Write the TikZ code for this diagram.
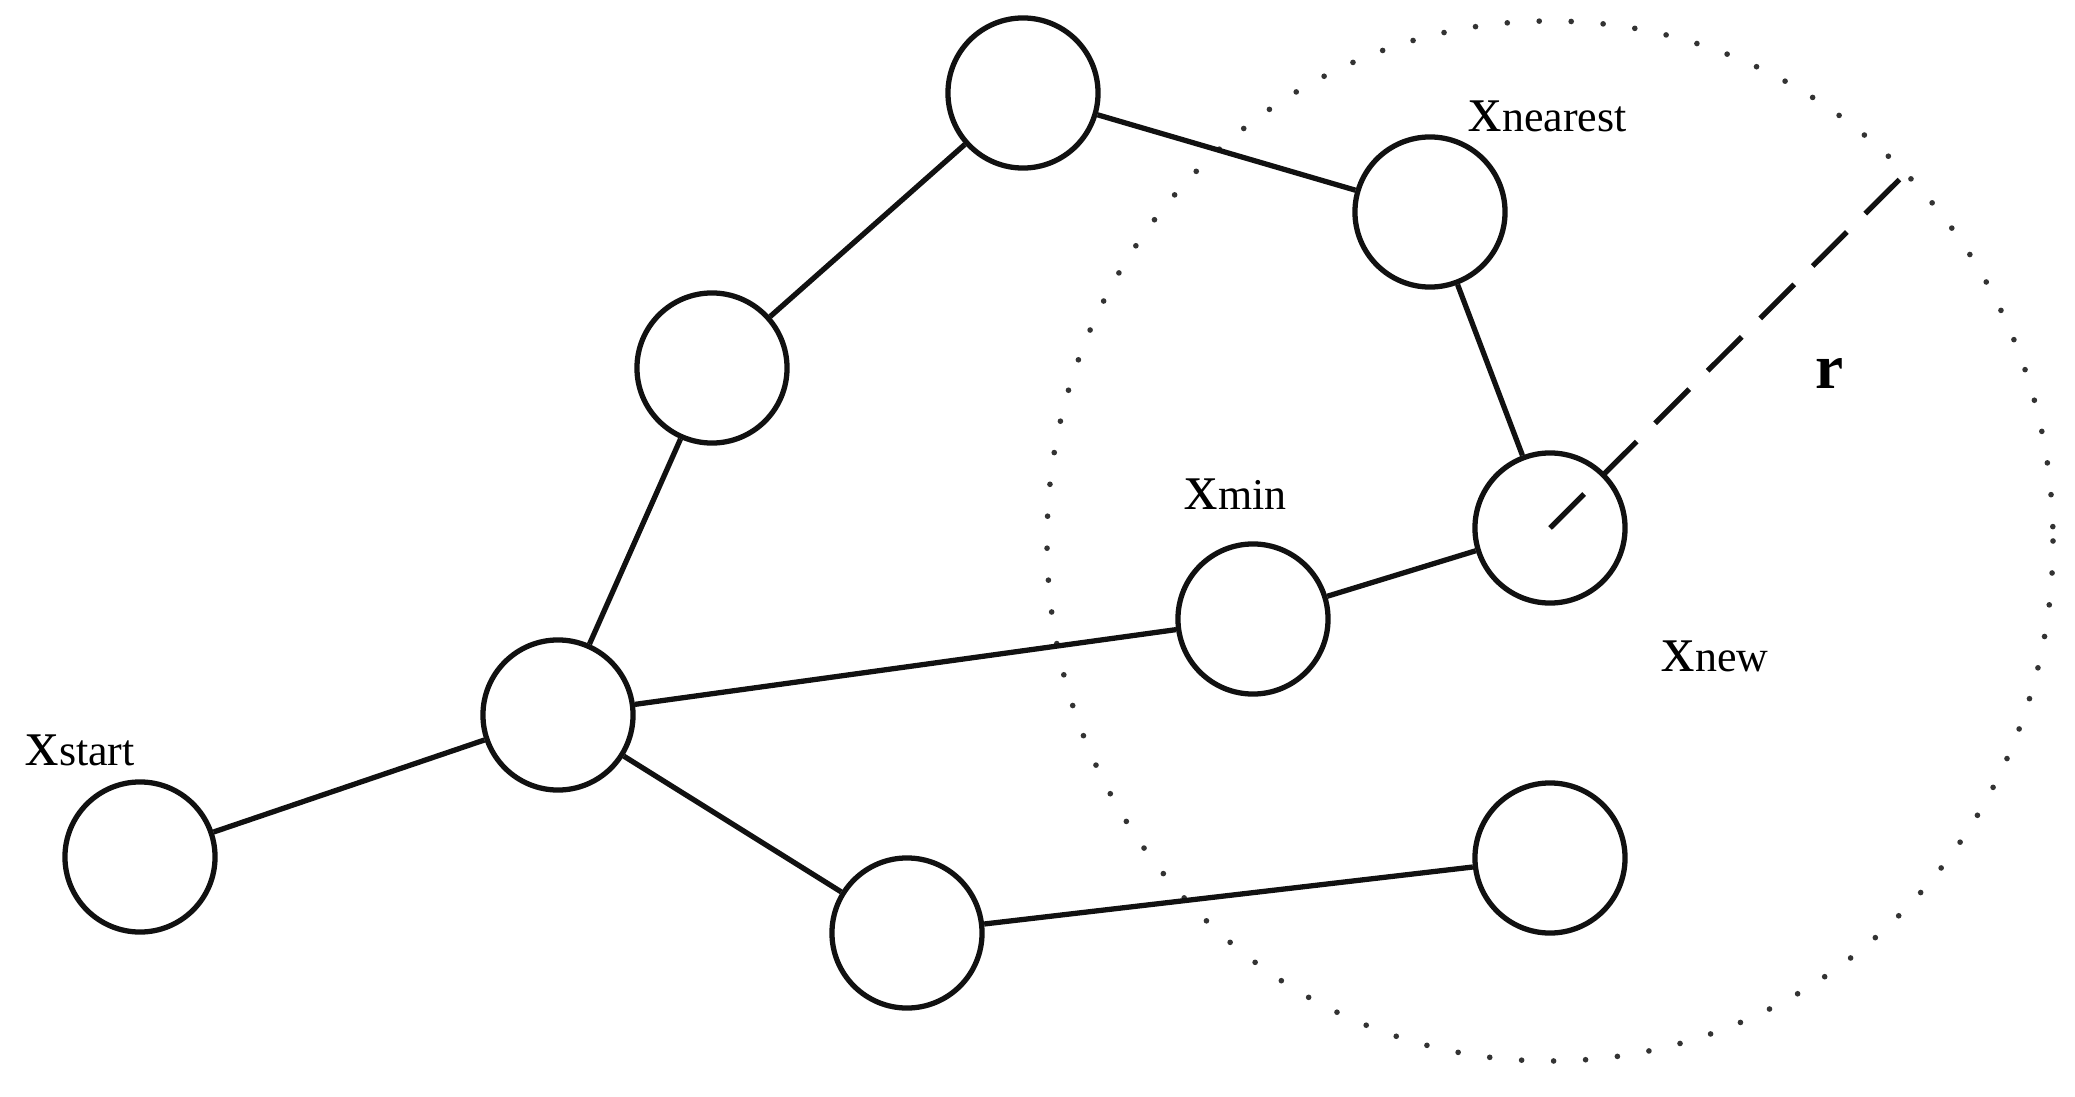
\documentclass[tikz,border=0pt]{standalone}
\usepackage{fontspec}
\setmainfont{Liberation Serif}
\usepackage{xcolor}
\definecolor{cLine}{HTML}{111111}
\definecolor{cDot}{HTML}{333333}
\usepackage{tikz}
\usetikzlibrary{positioning}
\newcommand{\xlab}[1]{{\fontsize{19}{19}\selectfont x}{\fontsize{12.5}{12.5}\selectfont #1}}
\tikzset{
  node-vertex/.style={draw=cLine,line width=1.5pt,circle,fill=white,
    minimum size=1.5cm,inner sep=0pt},
  node-label/.style={anchor=base west,inner sep=0pt},
  edge/.style={draw=cLine,line width=1.5pt},
  edge-radius/.style={draw=cLine,line width=1.5pt,dash pattern=on 13.7pt off 7.4pt},
  range-circle/.style={draw=cDot,line width=1.6pt,line cap=round,
    dash pattern=on 0pt off 9.1pt},
}

\begin{document}
\begin{tikzpicture}[x=0.01cm,y=-0.01cm]
  \useasboundingbox (0,0) rectangle (2075,1097);
  % neighbourhood of the new sample
  \coordinate (c-range) at (1550,541);
  \coordinate (c-rim) at (1906,173);
  \draw[range-circle] (c-range) ellipse [x radius=503,y radius=520];
  % tree vertices
  \node[node-vertex] (v-start) at (140,857) {};
  \node[node-vertex] (v-hub) at (558,715) {};
  \node[node-vertex] (v-up) at (712,368) {};
  \node[node-vertex] (v-top) at (1023,93) {};
  \node[node-vertex] (v-nearest) at (1430,212) {};
  \node[node-vertex] (v-new) at (1550,528) {};
  \node[node-vertex] (v-min) at (1253,619) {};
  \node[node-vertex] (v-low) at (907,933) {};
  \node[node-vertex] (v-lowright) at (1550,858) {};
  % tree edges
  \draw[edge] (v-start) -- (v-hub);
  \draw[edge] (v-hub) -- (v-up);
  \draw[edge] (v-up) -- (v-top);
  \draw[edge] (v-top) -- (v-nearest);
  \draw[edge] (v-nearest) -- (v-new);
  \draw[edge] (v-hub) -- (v-min);
  \draw[edge] (v-min) -- (v-new);
  \draw[edge] (v-hub) -- (v-low);
  \draw[edge] (v-low) -- (v-lowright);
  \draw[edge-radius] (v-new.center) -- (c-rim);
  % labels
  \node[node-label] (l-start) at (25,765) {\xlab{start}};
  \node[node-label] (l-nearest) at (1468,132) {\xlab{nearest}};
  \node[node-label] (l-min) at (1184,509) {\xlab{min}};
  \node[node-label] (l-new) at (1661,671) {\xlab{new}};
  \node[node-label] (l-r) at (1815,389) {\fontsize{18}{18}\selectfont\bfseries r};
\end{tikzpicture}
\end{document}
